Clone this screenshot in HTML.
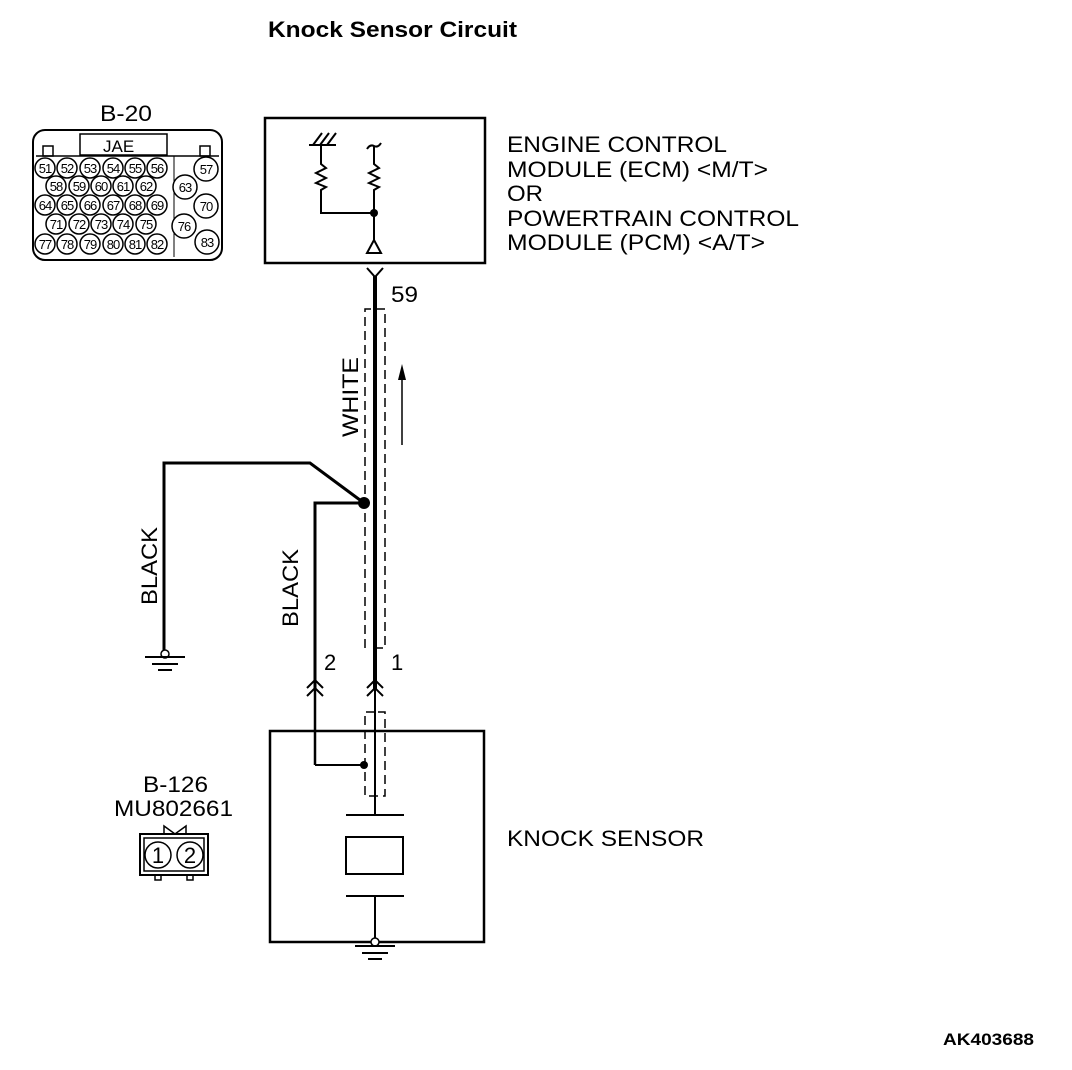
<!DOCTYPE html>
<html><head><meta charset="utf-8"><style>
html,body{margin:0;padding:0;background:#fff}
svg{display:block}
text{font-family:"Liberation Sans",Arial,sans-serif;fill:#000}
</style></head><body>
<svg width="1072" height="1070" viewBox="0 0 1072 1070" xmlns="http://www.w3.org/2000/svg">
<rect width="1072" height="1070" fill="#fff"/>
<text x="268" y="37" font-size="22" font-weight="bold" textLength="249" lengthAdjust="spacingAndGlyphs">Knock Sensor Circuit</text>

<!-- B-20 connector -->
<text x="100" y="121" font-size="22" textLength="52" lengthAdjust="spacingAndGlyphs">B-20</text>
<rect x="33" y="130" width="189" height="130" rx="12" fill="none" stroke="#000" stroke-width="2"/>
<rect x="80" y="134" width="87" height="21" fill="none" stroke="#000" stroke-width="1.5"/>
<text x="103" y="152" font-size="17">JAE</text>
<rect x="43" y="146" width="10" height="10" fill="none" stroke="#000" stroke-width="1.5"/>
<rect x="200" y="146" width="10" height="10" fill="none" stroke="#000" stroke-width="1.5"/>
<line x1="36" y1="156" x2="219" y2="156" stroke="#000" stroke-width="1.5"/>
<line x1="174" y1="156" x2="174" y2="257" stroke="#000" stroke-width="1"/>
<g fill="#fff" stroke="#000" stroke-width="1.5">
<circle cx="45" cy="168" r="10"/><circle cx="67" cy="168" r="10"/><circle cx="90" cy="168" r="10"/><circle cx="113" cy="168" r="10"/><circle cx="135" cy="168" r="10"/><circle cx="157" cy="168" r="10"/>
<circle cx="56" cy="186" r="10"/><circle cx="79" cy="186" r="10"/><circle cx="101" cy="186" r="10"/><circle cx="123" cy="186" r="10"/><circle cx="146" cy="186" r="10"/>
<circle cx="45" cy="205" r="10"/><circle cx="67" cy="205" r="10"/><circle cx="90" cy="205" r="10"/><circle cx="113" cy="205" r="10"/><circle cx="135" cy="205" r="10"/><circle cx="157" cy="205" r="10"/>
<circle cx="56" cy="224" r="10"/><circle cx="79" cy="224" r="10"/><circle cx="101" cy="224" r="10"/><circle cx="123" cy="224" r="10"/><circle cx="146" cy="224" r="10"/>
<circle cx="45" cy="244" r="10"/><circle cx="67" cy="244" r="10"/><circle cx="90" cy="244" r="10"/><circle cx="113" cy="244" r="10"/><circle cx="135" cy="244" r="10"/><circle cx="157" cy="244" r="10"/>
<circle cx="206" cy="169" r="12"/><circle cx="185" cy="187" r="12"/><circle cx="206" cy="206" r="12"/><circle cx="184" cy="226" r="12"/><circle cx="207" cy="242" r="12"/>
</g>
<g font-size="13" text-anchor="middle" style="letter-spacing:-1px">
<text x="45" y="173">51</text><text x="67" y="173">52</text><text x="90" y="173">53</text><text x="113" y="173">54</text><text x="135" y="173">55</text><text x="157" y="173">56</text>
<text x="56" y="191">58</text><text x="79" y="191">59</text><text x="101" y="191">60</text><text x="123" y="191">61</text><text x="146" y="191">62</text>
<text x="45" y="210">64</text><text x="67" y="210">65</text><text x="90" y="210">66</text><text x="113" y="210">67</text><text x="135" y="210">68</text><text x="157" y="210">69</text>
<text x="56" y="229">71</text><text x="79" y="229">72</text><text x="101" y="229">73</text><text x="123" y="229">74</text><text x="146" y="229">75</text>
<text x="45" y="249">77</text><text x="67" y="249">78</text><text x="90" y="249">79</text><text x="113" y="249">80</text><text x="135" y="249">81</text><text x="157" y="249">82</text>
<text x="206" y="174">57</text><text x="185" y="192">63</text><text x="206" y="211">70</text><text x="184" y="231">76</text><text x="207" y="247">83</text>
</g>

<!-- ECM box -->
<rect x="265" y="118" width="220" height="145" fill="none" stroke="#000" stroke-width="2.5"/>
<g stroke="#000" stroke-width="2" fill="none">
<line x1="309" y1="145" x2="336" y2="145"/>
<line x1="313" y1="145" x2="322" y2="133"/><line x1="320" y1="145" x2="329" y2="133"/><line x1="327" y1="145" x2="336" y2="133"/>
<polyline points="321,145 321,164 326,168 316,173 326,178 316,183 326,187 321,190 321,213 374,213"/>
<path d="M367,149 q3,-5 7,-3 q4,2 7,-3"/>
<polyline points="374,146 374,164 379,168 369,173 379,178 369,183 379,187 374,190 374,240"/>
<polygon points="374,240 367,253 381,253"/>
</g>
<circle cx="374" cy="213" r="4" fill="#000"/>
<g font-size="22">
<text x="507" y="152" textLength="220" lengthAdjust="spacingAndGlyphs">ENGINE CONTROL</text>
<text x="507" y="177" textLength="261" lengthAdjust="spacingAndGlyphs">MODULE (ECM) &lt;M/T&gt;</text>
<text x="507" y="201" textLength="36" lengthAdjust="spacingAndGlyphs">OR</text>
<text x="507" y="226" textLength="292" lengthAdjust="spacingAndGlyphs">POWERTRAIN CONTROL</text>
<text x="507" y="250" textLength="258" lengthAdjust="spacingAndGlyphs">MODULE (PCM) &lt;A/T&gt;</text>
</g>

<!-- main wire -->
<polyline points="367,268 375,277 383,268" fill="none" stroke="#000" stroke-width="2"/>
<line x1="375" y1="276" x2="375" y2="690" stroke="#000" stroke-width="4"/>
<text x="391" y="302" font-size="22" textLength="27" lengthAdjust="spacingAndGlyphs">59</text>
<polyline points="365,648 365,309 385,309 385,648 375,648" fill="none" stroke="#000" stroke-width="1.5" stroke-dasharray="9,5"/>
<text transform="translate(358,437) rotate(-90)" font-size="22" textLength="80" lengthAdjust="spacingAndGlyphs">WHITE</text>
<line x1="402" y1="445" x2="402" y2="375" stroke="#000" stroke-width="1.5"/>
<polygon points="402,364 398,380 406,380" fill="#000"/>

<!-- black wires -->
<polyline points="364,503 310,463 164,463 164,650" fill="none" stroke="#000" stroke-width="3"/>
<polyline points="364,503 315,503 315,690" fill="none" stroke="#000" stroke-width="3"/>
<circle cx="364" cy="503" r="6" fill="#000"/>
<circle cx="165" cy="654" r="4" fill="#fff" stroke="#000" stroke-width="1.5"/>
<g stroke="#000" stroke-width="2"><line x1="145" y1="657" x2="185" y2="657"/><line x1="152" y1="664" x2="178" y2="664"/><line x1="158" y1="670" x2="172" y2="670"/></g>
<text transform="translate(157,605) rotate(-90)" font-size="22" textLength="78" lengthAdjust="spacingAndGlyphs">BLACK</text>
<text transform="translate(298,627) rotate(-90)" font-size="22" textLength="78" lengthAdjust="spacingAndGlyphs">BLACK</text>
<text x="324" y="670" font-size="22">2</text>
<text x="391" y="670" font-size="22">1</text>

<!-- connector marks -->
<g fill="none" stroke="#000" stroke-width="2">
<polyline points="307,688 315,680 323,688"/><polyline points="307,696 315,688 323,696"/>
<polyline points="367,688 375,680 383,688"/><polyline points="367,696 375,688 383,696"/>
</g>
<line x1="315" y1="688" x2="315" y2="765" stroke="#000" stroke-width="2.5"/>
<line x1="375" y1="688" x2="375" y2="815" stroke="#000" stroke-width="2"/>
<polyline points="315,765 364,765" fill="none" stroke="#000" stroke-width="2"/>
<circle cx="364" cy="765" r="4" fill="#000"/>
<polyline points="375,712 365,712 365,796 385,796 385,712 375,712" fill="none" stroke="#000" stroke-width="1.5" stroke-dasharray="9,5"/>

<!-- knock sensor box -->
<rect x="270" y="731" width="214" height="211" fill="none" stroke="#000" stroke-width="2.5"/>
<g stroke="#000" stroke-width="2" fill="none">
<line x1="346" y1="815" x2="404" y2="815"/>
<rect x="346" y="837" width="57" height="37"/>
<line x1="346" y1="896" x2="404" y2="896"/>
<line x1="375" y1="896" x2="375" y2="940"/>
</g>
<circle cx="375" cy="942" r="4" fill="#fff" stroke="#000" stroke-width="1.5"/>
<g stroke="#000" stroke-width="2"><line x1="355" y1="946" x2="395" y2="946"/><line x1="362" y1="953" x2="388" y2="953"/><line x1="368" y1="959" x2="382" y2="959"/></g>
<text x="507" y="846" font-size="22" textLength="197" lengthAdjust="spacingAndGlyphs">KNOCK SENSOR</text>

<!-- B-126 -->
<text x="143" y="792" font-size="22" textLength="65" lengthAdjust="spacingAndGlyphs">B-126</text>
<text x="114" y="816" font-size="22" textLength="119" lengthAdjust="spacingAndGlyphs">MU802661</text>
<polyline points="164,834 164,826 175,834 186,826 186,834" fill="none" stroke="#000" stroke-width="1.5"/>
<rect x="140" y="834" width="68" height="41" fill="none" stroke="#000" stroke-width="2"/>
<rect x="144" y="838" width="60" height="33" fill="none" stroke="#000" stroke-width="1.5"/>
<circle cx="158" cy="855" r="13" fill="#fff" stroke="#000" stroke-width="1.5"/>
<circle cx="190" cy="855" r="13" fill="#fff" stroke="#000" stroke-width="1.5"/>
<text x="158" y="863" font-size="22" text-anchor="middle">1</text>
<text x="190" y="863" font-size="22" text-anchor="middle">2</text>
<rect x="155" y="875" width="6" height="5" fill="none" stroke="#000" stroke-width="1.5"/>
<rect x="187" y="875" width="6" height="5" fill="none" stroke="#000" stroke-width="1.5"/>

<text x="943" y="1045" font-size="17" font-weight="bold" textLength="91" lengthAdjust="spacingAndGlyphs">AK403688</text>
</svg>
</body></html>
